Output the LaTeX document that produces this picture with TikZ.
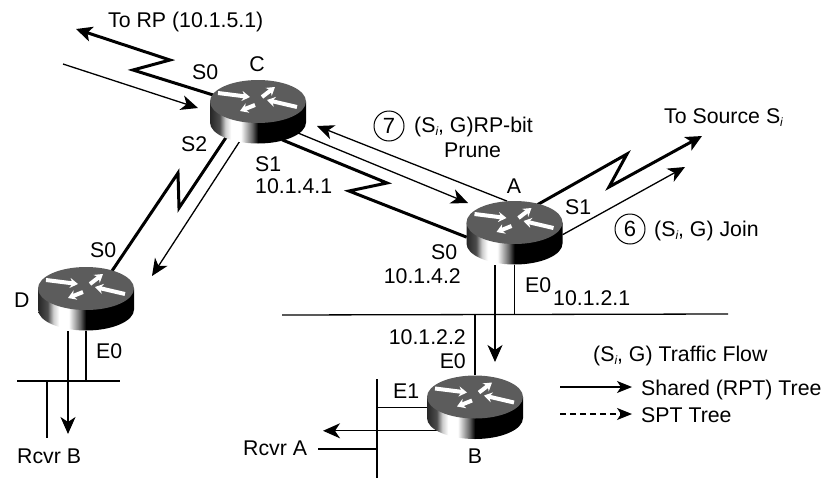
\documentclass[tikz,border=0pt]{standalone}
\usepackage{fontspec}
\setmainfont{Liberation Sans}
\usetikzlibrary{arrows.meta,shapes.geometric}
\pgfdeclarehorizontalshading{routerbody}{100bp}{color(0bp)=(black!85); color(25bp)=(black!85); color(30bp)=(black!70); color(33bp)=(black!20); color(36bp)=(white); color(41bp)=(white); color(47bp)=(black!60); color(50bp)=(black); color(100bp)=(black)}
\newcommand{\subi}{\raisebox{-3pt}{\fontsize{12}{12}\selectfont\itshape i}}
\tikzset{
  x=1pt,y=-1pt,
  routerspot/.style={ellipse,inner sep=0pt,minimum width=96pt,minimum height=64pt},
  lbl/.style={anchor=base west,inner sep=0pt,font=\fontsize{21.3}{24}\selectfont,text=black},
  lblr/.style={lbl,anchor=base east},
  lblc/.style={lbl,anchor=base},
  bold/.style={line width=3pt,line join=miter},
  boldarrow/.style={bold,-{Stealth[length=16pt,width=15pt,inset=4pt]}},
  thin line/.style={line width=1.3pt},
  thinarrow/.style={thin line,-{Stealth[length=17pt,width=15pt,inset=5pt]}},
  legendarrow/.style={thin line,-{Stealth[length=15pt,width=12pt,inset=4pt]}},
  stepnum/.style={circle,draw,line width=1pt,inner sep=0pt,minimum size=30pt,font=\fontsize{22}{24}\selectfont},
  routertop/.style={fill=black!64},
  routerarrow/.style={draw=white,line width=4pt,-{Stealth[length=8pt,width=10pt]}}
}
\newcommand{\routerart}[1]{%
  \begin{scope}[shift={(#1.center)}]
    \shade[shading=routerbody] (-48,-10.5) -- (-48,10.5) .. controls (-48,22.1) and (-26.5,31.5) .. (0,31.5) .. controls (26.5,31.5) and (48,22.1) .. (48,10.5) -- (48,-10.5) -- cycle;
    \fill[routertop] (0,-10.5) ellipse [x radius=48,y radius=21.5];
    \draw[routerarrow] (-40,-19) -- (-8,-15);
    \draw[routerarrow] (4,-15) -- (17,-25);
    \draw[routerarrow] (39,-5) -- (9,-12);
    \draw[routerarrow] (-3,-7) -- (-18,-1);
  \end{scope}}
\begin{document}
\begin{tikzpicture}
\useasboundingbox (0,0) rectangle (826,479);
% routers (anchors)
\node[routerspot] (C) at (258,112) {};
\node[routerspot] (A) at (514.5,233) {};
\node[routerspot] (D) at (86,299) {};
\node[routerspot] (B) at (475,407.5) {};
% free ends
\coordinate (rpTip) at (76,29);
\coordinate (rpZ1) at (170,60);
\coordinate (rpZ2) at (133,70);
\coordinate (inTail) at (63,64);
\coordinate (inTip) at (198,108);
\coordinate (dZ1) at (179,208);
\coordinate (dZ2) at (178,173);
\coordinate (dTip) at (152,276);
\coordinate (aZ1) at (387,183);
\coordinate (aZ2) at (349,191);
\coordinate (cTip) at (317,126);
\coordinate (aTip) at (468,203);
\coordinate (sZ1) at (627,154);
\coordinate (sZ2) at (609,187);
\coordinate (sTip) at (702,136);
\coordinate (jTip) at (685,167);
\coordinate (lanW) at (282,315);
\coordinate (lanE) at (728,314);
\coordinate (bTip) at (495,362);
\coordinate (dlanW) at (17,381);
\coordinate (dlanE) at (120,381);
\coordinate (rbTip) at (68,434);
\coordinate (rbStub) at (47,438);
\coordinate (busN) at (377,379);
\coordinate (busS) at (377,478);
\coordinate (raTip) at (323,431);
\coordinate (raStub) at (318,449);
\coordinate (lg1a) at (560,387);
\coordinate (lg1b) at (632,387);
\coordinate (lg2a) at (560,414);
\coordinate (lg2b) at (632,414);
% connectors
\draw[boldarrow] (C.159) -- (rpZ2) -- (rpZ1) -- (rpTip);
\draw[thinarrow] (inTail) -- (inTip);
\draw[bold] (C.218) -- (dZ1) -- (dZ2) -- (D.47);
\draw[thinarrow] (C.238) -- (dTip);
\draw[bold] (C.311) -- (aZ1) -- (aZ2) -- (A.185);
\draw[thinarrow] (A.103) -- (cTip);
\draw[thinarrow] (C.332) -- (aTip);
\draw[boldarrow] (A.51) -- (sZ1) -- (sZ2) -- (sTip);
\draw[thinarrow] (A.358) -- (jTip);
\draw[thin line] (lanW) -- (lanE);
\draw[thin line] (A.south) -- (A.south |- lanW);
\draw[thinarrow] (A.south -| bTip) -- (bTip);
\draw[thin line] (B.north) -- (B.north |- lanW);
\draw[thin line] (dlanW) -- (dlanE);
\draw[thin line] (D.south) -- (D.south |- dlanW);
\draw[thinarrow] (D.south -| rbTip) -- (rbTip);
\draw[thin line] (rbStub |- dlanW) -- (rbStub);
\draw[thin line] (busN) -- (busS);
\draw[thin line] (B.west) -- (B.west -| busN);
\draw[thinarrow] (B.215) -- (B.215 -| raTip);
\draw[thin line] (raStub) -- (raStub -| busN);
\draw[legendarrow] (lg1a) -- (lg1b);
\draw[legendarrow,dash pattern=on 6pt off 4pt] (lg2a) -- (lg2b);
% router drawings
\routerart{C}\routerart{A}\routerart{D}\routerart{B}
% labels
\node[lbl] (tRP) at (108,27) {To RP (10.1.5.1)};
\node[lbl] (tCS0) at (192,79) {S0};
\node[lblc] (tC) at (257,71) {C};
\node[lbl] (tCS2) at (181,151) {S2};
\node[lbl] (tCS1) at (255,171) {S1};
\node[lbl] (tCip) at (255,193) {10.1.4.1};
\node[stepnum] (n7) at (389,126) {7};
\node[lbl] (t7a) at (414,132) {(S\subi, G)RP-bit};
\node[lbl] (t7b) at (444,157) {Prune};
\node[lblc] (tA) at (514,193) {A};
\node[lbl] (tAS1) at (565,214) {S1};
\node[lbl] (tSrc) at (664,123) {To Source S\subi};
\node[stepnum] (n6) at (630,229) {6};
\node[lbl] (t6) at (654,236) {(S\subi, G) Join};
\node[lbl] (tAS0) at (431,259) {S0};
\node[lblr] (tAip) at (461,283) {10.1.4.2};
\node[lbl] (tAE0) at (525,292) {E0};
\node[lbl] (tAEip) at (553,305) {10.1.2.1};
\node[lbl] (tD) at (14,307) {D};
\node[lbl] (tDS0) at (90,257) {S0};
\node[lbl] (tDE0) at (96,358) {E0};
\node[lbl] (tRB) at (17,463) {Rcvr B};
\node[lblr] (tBip) at (466,344) {10.1.2.2};
\node[lblr] (tBE0) at (466,368) {E0};
\node[lbl] (tBE1) at (393,398) {E1};
\node[lbl] (tRA) at (243,455) {Rcvr A};
\node[lblc] (tB) at (475,463) {B};
\node[lbl] (tFlow) at (593,361) {(S\subi, G) Traffic Flow};
\node[lbl] (tShared) at (641,395) {Shared (RPT) Tree};
\node[lbl] (tSPT) at (641,422) {SPT Tree};
\end{tikzpicture}
\end{document}
